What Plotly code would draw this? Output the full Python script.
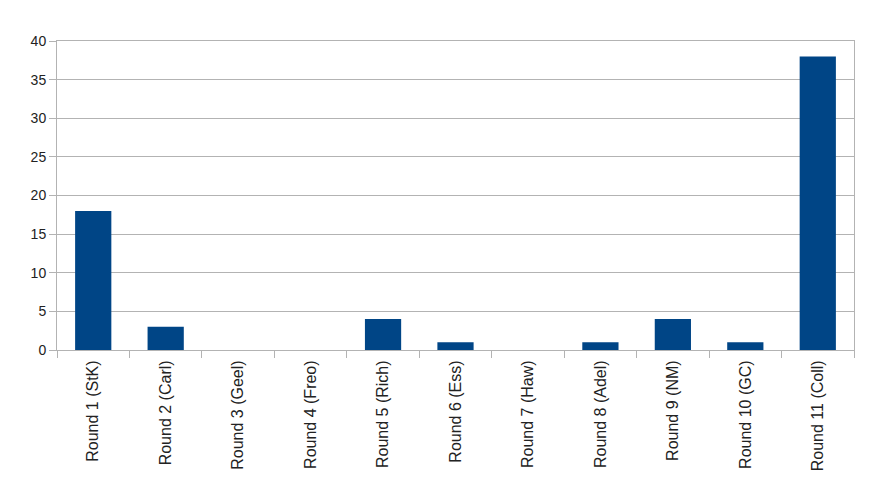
import plotly.graph_objects as go

categories = ["Round 1 (StK)", "Round 2 (Carl)", "Round 3 (Geel)", "Round 4 (Freo)",
              "Round 5 (Rich)", "Round 6 (Ess)", "Round 7 (Haw)", "Round 8 (Adel)",
              "Round 9 (NM)", "Round 10 (GC)", "Round 11 (Coll)"]
values = [18, 3, 0, 0, 4, 1, 0, 1, 4, 1, 38]
y_ticks = [0, 5, 10, 15, 20, 25, 30, 35, 40]

fig = go.Figure(go.Bar(x=categories, y=values, marker=dict(color="#004586", line=dict(width=0))))

grid = "#b3b3b3"
fig.update_layout(
    width=870, height=494,
    margin=dict(l=57, r=16, t=41, b=144),
    paper_bgcolor="white", plot_bgcolor="white",
    bargap=0.5,
    showlegend=False,
    font=dict(family="Liberation Sans, Arial, sans-serif", size=13, color="#222222"),
)
fig.update_yaxes(
    range=[0, 40], tickvals=y_ticks, showgrid=True, gridcolor=grid, gridwidth=1,
    showline=True, linecolor=grid, linewidth=1, mirror=True,
    ticks="outside", ticklen=7, tickcolor=grid, tickfont=dict(size=14),
    zeroline=False,
)
fig.update_xaxes(
    tickangle=-90, showline=True, linecolor=grid, linewidth=1, mirror=True,
    ticks="outside", ticklen=7, tickcolor=grid, tickson="boundaries",
    showgrid=False, tickfont=dict(size=16), ticklabelstandoff=3,
)
fig.write_html("out.html")
